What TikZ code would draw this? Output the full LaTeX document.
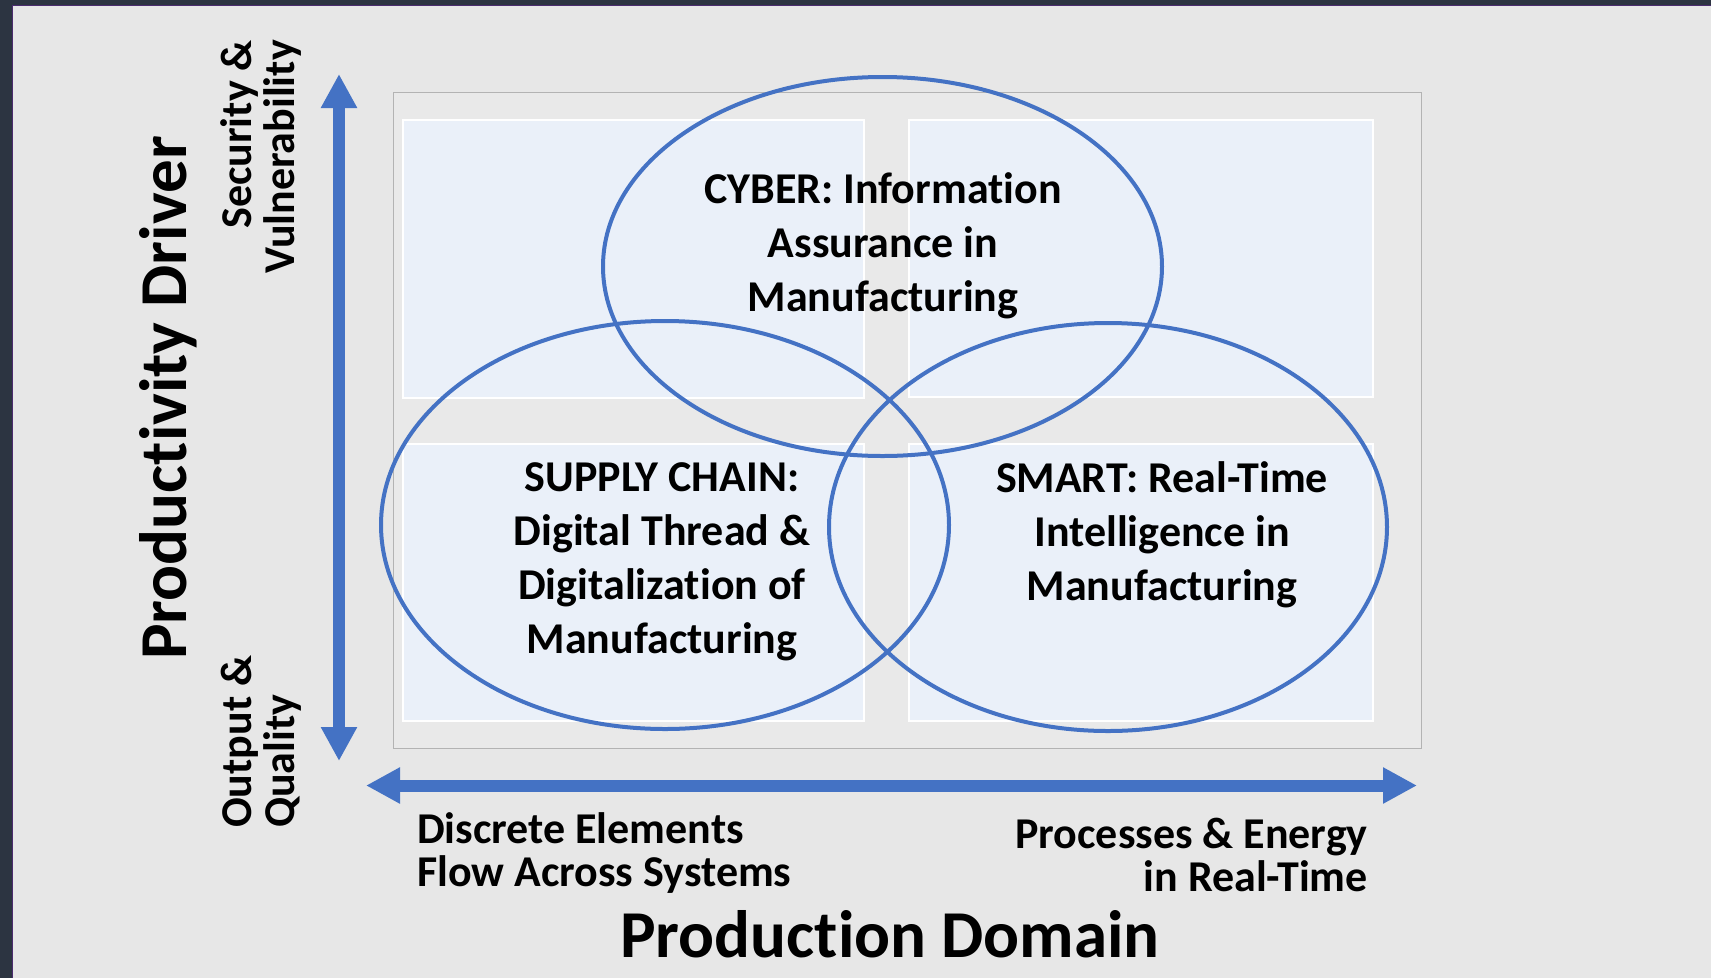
\documentclass[tikz,border=0pt]{standalone}
\usepackage{fontspec}
\setmainfont{Carlito}[Ligatures=NoCommon]
\usetikzlibrary{arrows.meta,shapes.geometric}
\definecolor{bg}{HTML}{E7E7E7}
\definecolor{frame}{HTML}{2C3441}
\definecolor{purp}{HTML}{4B2C6E}
\definecolor{panel}{HTML}{E9E9E9}
\definecolor{panelline}{HTML}{B3B3B3}
\definecolor{boxfill}{HTML}{EAF0F9}
\definecolor{vennblue}{HTML}{4472C4}
\begin{document}
\begin{tikzpicture}[x=1pt,y=-1pt,
  venn/.style={ellipse, draw=vennblue, line width=4pt, inner sep=0pt, outer sep=0pt},
  quad/.style={fill=boxfill, draw=white, line width=1.5pt},
  circtxt/.style={font=\bfseries\fontsize{44}{54}\selectfont, align=center, inner sep=0pt},
  sidetxt/.style={font=\bfseries\fontsize{44}{43}\selectfont, inner sep=0pt},
  titletxt/.style={font=\bfseries\fontsize{67}{70}\selectfont, inner sep=0pt},
  axisarrow/.style={draw=vennblue, line width=12pt,
    arrows={Triangle[width=34pt,length=34pt]-Triangle[width=34pt,length=34pt]}}
]
\useasboundingbox (0,0) rectangle (1711,978);
% background and frame
\fill[bg] (0,0) rectangle (1711,978);
\fill[frame] (0,0) rectangle (1711,5);
\fill[frame] (0,0) rectangle (12,978);
\draw[purp, line width=1.5pt] (12.5,978) -- (12.5,5.5) -- (1711,5.5);
% panel
\filldraw[fill=panel, draw=panelline, line width=1pt] (393,92) rectangle (1421,748);
% quadrant boxes
\filldraw[quad] (403,120) rectangle (864,398);
\filldraw[quad] (909,120) rectangle (1373,397);
\filldraw[quad] (403,444) rectangle (864,721);
\filldraw[quad] (909,444) rectangle (1373,721);
% venn ellipses
\node[venn, minimum width=559pt, minimum height=379pt] (cyber) at (882.5,266.5) {};
\node[venn, minimum width=568pt, minimum height=408pt] (supply) at (665,525) {};
\node[venn, minimum width=558pt, minimum height=408pt] (smart) at (1108,527) {};
% ellipse texts
\node[circtxt] (cybertxt) at (883,245.5) {CYBER: Information\\Assurance in\\Manufacturing};
\node[circtxt] (supplytxt) at (662,561.5) {SUPPLY CHAIN:\\Digital Thread \&\\Digitalization of\\Manufacturing};
\node[circtxt] (smarttxt) at (1162,535) {SMART: Real-Time\\Intelligence in\\Manufacturing};
% axes
\coordinate (vtop) at (339,74);
\coordinate (vbot) at (339,761);
\coordinate (hleft) at (366,785.5);
\coordinate (hright) at (1417,785.5);
\draw[axisarrow] (vbot) -- (vtop);
\draw[axisarrow] (hleft) -- (hright);
% axis labels
\node[titletxt, rotate=90, anchor=base] (ylabel) at (186,398) {Productivity Driver};
\node[titletxt, anchor=base] (xlabel) at (890,957) {Production Domain};
\node[sidetxt, rotate=90, align=right, anchor=base east] (ytop) at (294,40) {Security \&\\Vulnerability};
\node[sidetxt, rotate=90, align=left, anchor=base west] (ybot) at (294,828) {Output \&\\Quality};
\node[sidetxt, align=left, anchor=base west] (xleft) at (417,886) {Discrete Elements\\Flow Across Systems};
\node[sidetxt, align=right, anchor=base east] (xright) at (1368,891) {Processes \& Energy\\in Real-Time};
\end{tikzpicture}
\end{document}
